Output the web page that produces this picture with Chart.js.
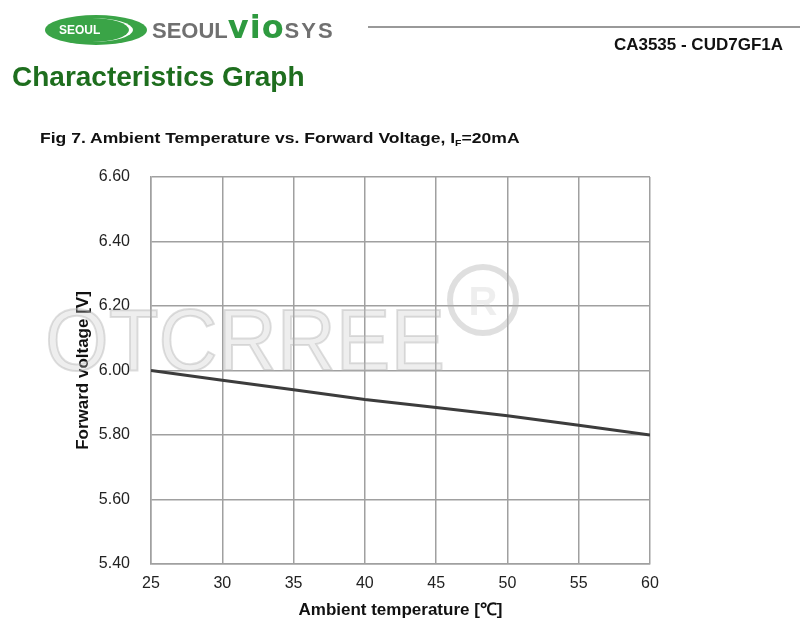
<!DOCTYPE html>
<html>
<head>
<meta charset="utf-8">
<script src="https://cdn.jsdelivr.net/npm/chart.js@4"></script>
<style>
	body { margin: 0; background: #fff; font-family: "Liberation Sans", Arial, sans-serif; }
	#page { position: relative; width: 800px; height: 638px; overflow: hidden; }
	#myCanvas { position: absolute; left: 0; top: 0; }
	.abs { position: absolute; white-space: nowrap; }
	#logo { left: 45px; top: 15px; width: 102px; height: 30px; border-radius: 50%; background: #3aa447; overflow: hidden; }
	#logo .swoosh { position: absolute; left: 6px; top: 3px; width: 82px; height: 24px; border-radius: 50%; border-right: 4px solid #fff; box-sizing: border-box; }
	#logo .txt { position: absolute; left: 14px; top: 8px; color: #fff; font-size: 12px; font-weight: bold; }
	#brand { left: 152px; top: 8px; font-size: 22px; font-weight: bold; color: #707070; }
	#brand .vio { color: #2e9a3f; font-family: "DejaVu Sans", sans-serif; font-size: 32px; letter-spacing: 1px; }
	#brand .sys { letter-spacing: 2px; }
	#rule { left: 368px; top: 26px; width: 432px; height: 2px; background: #999; }
	#part { right: 17px; top: 35px; font-size: 17px; font-weight: bold; color: #111; }
	#heading { left: 12px; top: 61px; font-size: 28px; font-weight: bold; color: #1e6e1e; }
	#fig { left: 40px; top: 129px; font-size: 15px; font-weight: bold; color: #111; transform: scaleX(1.17); transform-origin: left top; }
	#fig sub { font-size: 9px; vertical-align: -3px; }
</style>
</head>
<body>
<div id="page">
	<canvas id="myCanvas" width="800" height="638"></canvas>
	<div id="logo" class="abs"><div class="swoosh"></div><div class="txt">SEOUL</div></div>
	<div id="brand" class="abs">SEOUL<span class="vio">vio</span><span class="sys">SYS</span></div>
	<div id="rule" class="abs"></div>
	<div id="part" class="abs">CA3535 - CUD7GF1A</div>
	<div id="heading" class="abs">Characteristics Graph</div>
	<div id="fig" class="abs">Fig 7. Ambient Temperature vs. Forward Voltage, I<sub>F</sub>=20mA</div>
</div>
<script>
const temperatures = [25, 30, 35, 40, 45, 50, 55, 60];
const forwardVoltage = [6.00, 5.97, 5.94, 5.91, 5.885, 5.86, 5.83, 5.80];
const xTicks = [25, 30, 35, 40, 45, 50, 55, 60];
const yTicks = [5.40, 5.60, 5.80, 6.00, 6.20, 6.40, 6.60];

const gridColor = '#a0a0a0';
const tickFont = { family: '"Liberation Sans", Arial, sans-serif', size: 16 };
const titleFont = { family: '"Liberation Sans", Arial, sans-serif', size: 17, weight: 'bold' };

// faint watermark behind the curve
const watermark = {
	id: 'watermark',
	beforeDatasetsDraw(chart) {
		const ctx = chart.ctx;
		ctx.save();
		ctx.font = '88px "Liberation Sans", Arial, sans-serif';
		ctx.textBaseline = 'alphabetic';
		ctx.fillStyle = 'rgba(200,200,200,0.3)';
		ctx.strokeStyle = 'rgba(175,175,175,0.4)';
		ctx.lineWidth = 2;
		ctx.fillText('OTCRREE', 45, 370, 400);
		ctx.strokeText('OTCRREE', 45, 370, 400);
		ctx.beginPath();
		ctx.arc(483, 300, 33, 0, Math.PI * 2);
		ctx.lineWidth = 6;
		ctx.stroke();
		ctx.font = 'bold 40px "Liberation Sans", Arial, sans-serif';
		ctx.textAlign = 'center';
		ctx.fillText('R', 483, 315);
		ctx.restore();
	}
};

const ctx = document.querySelector('#myCanvas');
const chart = new Chart(ctx, {
	type: 'line',
	data: {
		datasets: [{
			data: temperatures.map((t, i) => ({ x: t, y: forwardVoltage[i] })),
			borderColor: '#3c3c3c',
			borderWidth: 3,
			pointRadius: 0,
			tension: 0
		}]
	},
	options: {
		responsive: false,
		animation: false,
		layout: { padding: { left: 73, top: 177, right: 150, bottom: 0 } },
		plugins: { legend: { display: false }, tooltip: { enabled: false } },
		scales: {
			x: {
				type: 'linear',
				min: 25,
				max: 60,
				afterBuildTicks: (s) => { s.ticks = xTicks.map(v => ({ value: v })); },
				afterFit: (s) => { s.height = 74; },
				grid: { color: gridColor, lineWidth: 1.5, drawTicks: false },
				border: { color: gridColor, width: 1.5 },
				ticks: { color: '#222', font: tickFont, padding: 10, maxRotation: 0 },
				title: { display: true, text: 'Ambient temperature [℃]', color: '#111', font: titleFont, padding: { top: 0, bottom: 17 } }
			},
			y: {
				min: 5.4,
				max: 6.6,
				afterBuildTicks: (s) => { s.ticks = yTicks.map(v => ({ value: v })); },
				afterFit: (s) => { s.width = 78; },
				grid: { color: gridColor, lineWidth: 1.5, drawTicks: false },
				border: { color: gridColor, width: 1.5 },
				ticks: { color: '#222', font: tickFont, padding: 21, callback: (v) => v.toFixed(2) },
				title: { display: true, text: 'Forward voltage [V]', color: '#111', font: titleFont, padding: { top: 0, bottom: 0 } }
			}
		}
	},
	plugins: [watermark]
});
</script>
</body>
</html>
